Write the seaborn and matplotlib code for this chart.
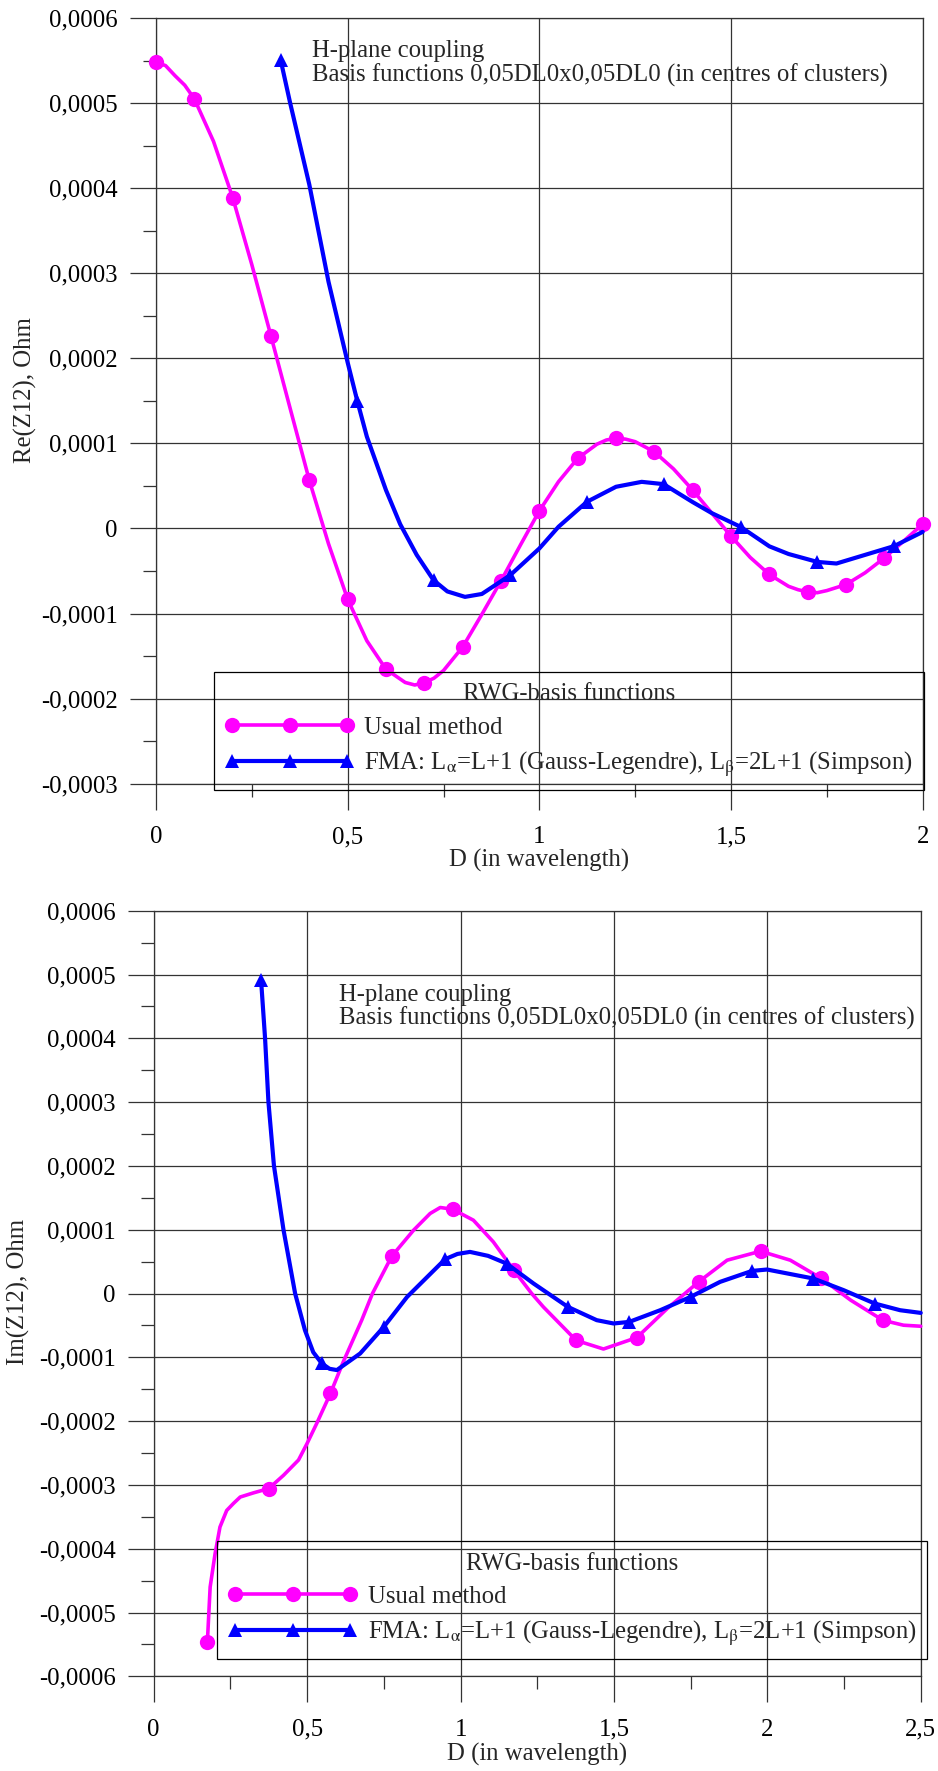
import numpy as np
import matplotlib
matplotlib.use("Agg")
import matplotlib.pyplot as plt
from matplotlib.lines import Line2D
from matplotlib.ticker import FuncFormatter, MultipleLocator
import seaborn as sns


# Re(Z12) vs D, usual method (trace of the smoothed curve, markers every 0.1)
RE_USUAL_D = [0.00, 0.025, 0.05, 0.075, 0.10, 0.15, 0.20, 0.25, 0.30, 0.35, 0.40,
              0.45, 0.50, 0.55, 0.60, 0.65, 0.675, 0.70, 0.725, 0.75, 0.80, 0.85,
              0.90, 0.95, 1.00, 1.05, 1.10, 1.15, 1.175, 1.20, 1.225, 1.25, 1.30,
              1.35, 1.40, 1.45, 1.50, 1.55, 1.60, 1.65, 1.675, 1.70, 1.725, 1.75,
              1.80, 1.85, 1.90, 1.95, 2.00]
RE_USUAL = [0.000548, 0.000544, 0.000532, 0.000521, 0.000505, 0.000455, 0.000389,
            0.000310, 0.000226, 0.000141, 0.0000565, -0.000018, -0.0000832,
            -0.000132, -0.0001655, -0.000181, -0.000184, -0.0001812, -0.000176,
            -0.000167, -0.0001393, -0.000101, -0.0000616, -0.000020, 0.0000207,
            0.000055, 0.0000824, 0.000099, 0.000104, 0.0001059, 0.000105,
            0.000102, 0.0000901, 0.000070, 0.0000451, 0.000018, -0.0000091,
            -0.000034, -0.0000541, -0.000068, -0.000072, -0.0000746, -0.0000755,
            -0.000073, -0.0000659, -0.000052, -0.0000346, -0.000015, 0.0000051]
RE_USUAL_MARKS = [0.0, 0.1, 0.2, 0.3, 0.4, 0.5, 0.6, 0.7, 0.8, 0.9, 1.0,
                  1.1, 1.2, 1.3, 1.4, 1.5, 1.6, 1.7, 1.8, 1.9, 2.0]

# Re(Z12) vs D, FMA
RE_FMA_D = [0.325, 0.35, 0.40, 0.45, 0.50, 0.525, 0.55, 0.60, 0.637, 0.68,
            0.724, 0.76, 0.806, 0.85, 0.924, 1.00, 1.05, 1.124, 1.20, 1.267,
            1.324, 1.40, 1.45, 1.525, 1.60, 1.65, 1.725, 1.775, 1.85, 1.925, 2.00]
RE_FMA = [0.000551, 0.000500, 0.000404, 0.000290, 0.000195, 0.000150, 0.000108,
          0.000045, 0.000005, -0.000031, -0.0000608, -0.000074, -0.0000804,
          -0.000077, -0.0000549, -0.0000235, 0.000002, 0.0000313, 0.0000490,
          0.0000548, 0.0000521, 0.000031, 0.000018, 0.0000019, -0.000021,
          -0.000030, -0.0000393, -0.0000412, -0.000031, -0.0000208, -0.000004]
RE_FMA_MARKS = [0.325, 0.525, 0.724, 0.924, 1.124, 1.324, 1.525, 1.725, 1.925]

# Im(Z12) vs D, usual method
IM_USUAL_D = [0.175, 0.184, 0.20, 0.216, 0.238, 0.26, 0.282, 0.325, 0.375, 0.423,
              0.472, 0.50, 0.531, 0.576, 0.618, 0.678, 0.713, 0.776, 0.847, 0.901,
              0.934, 0.974, 1.042, 1.107, 1.173, 1.232, 1.27, 1.377, 1.466, 1.575,
              1.674, 1.776, 1.869, 1.978, 2.075, 2.175, 2.272, 2.377, 2.444, 2.50]
IM_USUAL = [-0.000546, -0.000460, -0.000408, -0.000366, -0.000340, -0.000329,
            -0.000319, -0.0003125, -0.0003057, -0.000285, -0.000261, -0.000235,
            -0.000204, -0.0001567, -0.000107, -0.0000418, 0.0, 0.0000585,
            0.0000992, 0.0001254, 0.0001348, 0.0001321, 0.0001149, 0.0000809,
            0.0000370, 0.0, -0.000021, -0.0000735, -0.000087, -0.000069,
            -0.0000235, 0.0000182, 0.0000522, 0.0000663, 0.0000522, 0.0000240,
            -0.0000105, -0.0000420, -0.0000497, -0.0000513]
IM_USUAL_MARKS = [0.175, 0.375, 0.576, 0.776, 0.974, 1.173, 1.377, 1.575,
                  1.776, 1.978, 2.175, 2.377]

# Im(Z12) vs D, FMA
IM_FMA_D = [0.35, 0.363, 0.374, 0.392, 0.423, 0.461, 0.493, 0.52, 0.548, 0.573,
            0.597, 0.673, 0.75, 0.826, 0.95, 0.99, 1.031, 1.09, 1.15, 1.238,
            1.35, 1.444, 1.499, 1.55, 1.651, 1.75, 1.846, 1.95, 1.999, 2.15,
            2.249, 2.35, 2.433, 2.50]
IM_FMA = [0.000491, 0.000400, 0.000300, 0.000200, 0.000100, 0.0, -0.0000575,
          -0.000092, -0.0001097, -0.000118, -0.000120, -0.000094, -0.0000523,
          -0.0000053, 0.0000538, 0.000062, 0.0000652, 0.000059, 0.000047,
          0.0000157, -0.000021, -0.0000418, -0.000047, -0.0000445, -0.0000262,
          -0.0000053, 0.0000182, 0.0000354, 0.0000376, 0.0000235, 0.0000052,
          -0.0000157, -0.0000262, -0.0000304]
IM_FMA_MARKS = [0.35, 0.548, 0.75, 0.95, 1.15, 1.35, 1.55, 1.75, 1.95, 2.15, 2.35]

NOTE = "H-plane coupling\nBasis functions 0,05DL0x0,05DL0 (in centres of clusters)"
LEGEND_TITLE = "RWG-basis functions"
LABEL_USUAL = "Usual method"
LABEL_FMA = r"FMA: L$_{\mathrm{\alpha}}$=L+1 (Gauss-Legendre), L$_{\mathrm{\beta}}$=2L+1 (Simpson)"

MAGENTA = "#FF00FF"
BLUE = "#0000FF"
GRID = "0.2"
FS = 17.8
MAG_LW, MAG_MS = 2.6, 11
BLUE_LW, BLUE_MS = 3.0, 10

sns.set_theme(style="white")
plt.rcParams["font.family"] = ["Liberation Serif", "DejaVu Serif"]
plt.rcParams["mathtext.fontset"] = "stix"


def comma_fmt(value, pos):
    if abs(value) < 1e-12:
        return "0"
    return f"{value:g}".replace(".", ",")


def comma_fmt_y(value, pos):
    if abs(value) < 1e-12:
        return "0"
    return f"{value:.4f}".replace(".", ",")


def mark_index(xs, marks):
    xs = np.round(np.asarray(xs), 4)
    return [i for i, v in enumerate(xs) if np.any(np.isclose(v, marks))]


def draw_panel(ax, usual_d, usual, usual_marks, fma_d, fma, fma_marks, xmax):
    sns.lineplot(x=usual_d, y=usual, ax=ax, color=MAGENTA, linewidth=MAG_LW,
                 marker="o", markersize=MAG_MS, markeredgewidth=0,
                 markeredgecolor=MAGENTA, markevery=mark_index(usual_d, usual_marks),
                 sort=False, estimator=None, clip_on=False, zorder=3,
                 solid_joinstyle="round")
    sns.lineplot(x=fma_d, y=fma, ax=ax, color=BLUE, linewidth=BLUE_LW,
                 marker="^", markersize=BLUE_MS, markeredgewidth=0,
                 markeredgecolor=BLUE, markevery=mark_index(fma_d, fma_marks),
                 sort=False, estimator=None, clip_on=False, zorder=4,
                 solid_joinstyle="round")

    ax.set_xlim(0, xmax)
    ax.xaxis.set_major_locator(MultipleLocator(0.5))
    ax.xaxis.set_minor_locator(MultipleLocator(0.25))
    ax.yaxis.set_major_locator(MultipleLocator(0.0001))
    ax.yaxis.set_minor_locator(MultipleLocator(0.00005))
    ax.xaxis.set_major_formatter(FuncFormatter(comma_fmt))
    ax.yaxis.set_major_formatter(FuncFormatter(comma_fmt_y))
    ax.tick_params(axis="both", which="both", bottom=True, left=True,
                   top=False, right=False, direction="out")
    ax.tick_params(axis="both", which="major", length=18.5, width=0.9,
                   color=GRID, labelsize=FS, labelcolor="black")
    ax.tick_params(axis="both", which="minor", length=9.4, width=0.9, color=GRID)
    ax.tick_params(axis="x", which="major", pad=12)
    ax.tick_params(axis="y", which="major", pad=9)
    ax.grid(True, which="major", color=GRID, linewidth=0.9)
    ax.set_axisbelow(True)
    for spine in ax.spines.values():
        spine.set_visible(True)
        spine.set_color(GRID)
        spine.set_linewidth(0.9)


def add_legend(ax, fig, anchor):
    handles = [
        Line2D([], [], color=MAGENTA, linewidth=MAG_LW, marker="o",
               markersize=MAG_MS, markeredgewidth=0),
        Line2D([], [], color=BLUE, linewidth=BLUE_LW, marker="^",
               markersize=BLUE_MS, markeredgewidth=0),
    ]
    leg = ax.legend(handles, [LABEL_USUAL, LABEL_FMA], title=LEGEND_TITLE,
                    loc="lower right", bbox_to_anchor=anchor,
                    bbox_transform=fig.transFigure, borderaxespad=0,
                    numpoints=3, handlelength=5.25, handletextpad=0.4,
                    borderpad=0.45, labelspacing=0.45, fontsize=FS,
                    title_fontsize=FS, fancybox=False, framealpha=1,
                    facecolor="none", edgecolor="black")
    leg.get_frame().set_linewidth(0.9)
    leg.set_zorder(5)


fig = plt.figure(figsize=(9.38, 17.71), dpi=100)

ax1 = fig.add_axes([0.16631, 0.55748, 0.81738, 0.43236])
draw_panel(ax1, RE_USUAL_D, RE_USUAL, RE_USUAL_MARKS, RE_FMA_D, RE_FMA,
           RE_FMA_MARKS, 2.0)
ax1.set_ylim(-0.0003, 0.0006)
ax1.set_xlabel("D (in wavelength)", fontsize=FS)
ax1.set_ylabel("Re(Z12), Ohm", fontsize=FS)
ax1.xaxis.set_label_coords(0.5, -0.085)
ax1.yaxis.set_label_coords(-0.155, 0.514)
ax1.text(0.406, 0.0005468, NOTE, fontsize=FS, ha="left", va="center",
         linespacing=1.08)
add_legend(ax1, fig, (0.98507, 0.55393))

ax2 = fig.add_axes([0.16386, 0.05347, 0.81770, 0.43230])
draw_panel(ax2, IM_USUAL_D, IM_USUAL, IM_USUAL_MARKS, IM_FMA_D, IM_FMA,
           IM_FMA_MARKS, 2.5)
ax2.set_ylim(-0.0006, 0.0006)
ax2.set_xlabel("D (in wavelength)", fontsize=FS)
ax2.set_ylabel("Im(Z12), Ohm", fontsize=FS)
ax2.xaxis.set_label_coords(0.5, -0.087)
ax2.yaxis.set_label_coords(-0.161, 0.502)
ax2.text(0.604, 0.000449, NOTE, fontsize=FS, ha="left", va="center",
         linespacing=1.08)
add_legend(ax2, fig, (0.98859, 0.06307))

fig.savefig("out.png", dpi=100)
